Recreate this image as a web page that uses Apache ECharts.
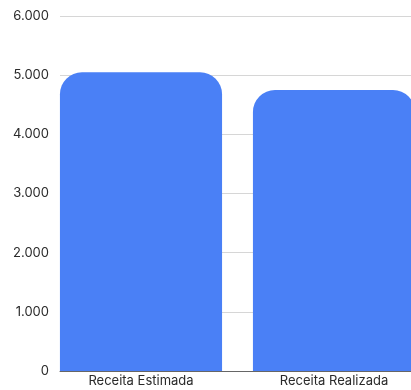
<!DOCTYPE html>
<html><head><meta charset="utf-8">
<script src="https://cdn.jsdelivr.net/npm/echarts@6/dist/echarts.min.js"></script>
<style>html,body{margin:0;padding:0;background:#fff;overflow:hidden;width:411px;height:390px}#c{width:450px;height:390px}</style>
</head><body><div id="c"></div>
<script>
const categories = ['Receita Estimada', 'Receita Realizada'];
const values = [5050, 4750];
const yMin = 0, yMax = 6000, yStep = 1000;

const fmt = v => String(v).replace(/\B(?=(\d{3})+(?!\d))/g, '.');
const chart = echarts.init(document.getElementById('c'), null, {renderer: 'canvas'});
const font = 'Inter, "Noto Sans", sans-serif';
chart.setOption({
  animation: false,
  grid: [
    {left: 60, right: 0, top: 16, bottom: 19},
    {left: 44.5, width: 386, top: 16, bottom: 19}
  ],
  xAxis: [
    {gridIndex: 0, type: 'category', data: categories, axisLabel: {show: false}, axisTick: {show: false},
     axisLine: {show: true, lineStyle: {color: '#666', width: 1}}},
    {gridIndex: 1, type: 'category', data: categories, axisTick: {show: false},
     axisLine: {show: false},
     axisLabel: {color: '#2a2a2a', fontFamily: font, fontSize: 13, margin: 4}}
  ],
  yAxis: [
    {gridIndex: 0, type: 'value', min: yMin, max: yMax, interval: yStep,
     axisLabel: {color: '#2a2a2a', fontFamily: font, fontSize: 13, margin: 11, formatter: fmt},
     axisLine: {show: false}, axisTick: {show: false},
     splitLine: {lineStyle: {color: '#d6d6d6', width: 1}}},
    {gridIndex: 1, type: 'value', min: yMin, max: yMax, interval: yStep, show: false}
  ],
  series: [{
    type: 'bar', xAxisIndex: 1, yAxisIndex: 1, data: values,
    barCategoryGap: '16%',
    itemStyle: {color: '#4A80F6', borderRadius: [22, 22, 0, 0]}
  }]
});
</script></body></html>
